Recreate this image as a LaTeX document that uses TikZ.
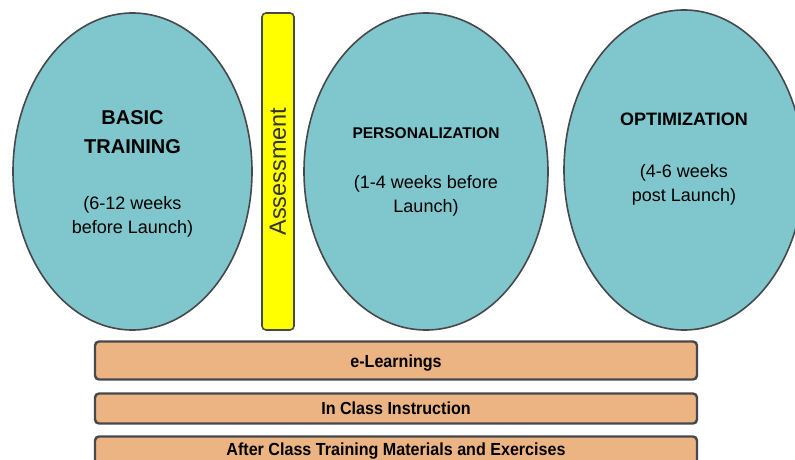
\documentclass[tikz,border=0pt]{standalone}
\usepackage{fontspec}
\setmainfont{Liberation Sans}
\usetikzlibrary{positioning,shapes.geometric}

\definecolor{phasefill}{RGB}{128,198,205}
\definecolor{barfill}{RGB}{236,180,130}
\definecolor{assessfill}{RGB}{255,255,0}
\definecolor{edgegray}{RGB}{70,72,76}

\tikzset{
  phase/.style={ellipse, draw=edgegray, line width=1.6pt, fill=phasefill, inner sep=0pt, outer sep=0pt},
  gate/.style={rectangle, rounded corners=4pt, draw=edgegray, line width=1.6pt, fill=assessfill, inner sep=0pt, outer sep=0pt, minimum width=32pt, minimum height=317pt},
  layer/.style={rectangle, rounded corners=4pt, draw=edgegray, line width=2.4pt, fill=barfill, inner sep=0pt, outer sep=0pt, minimum width=602pt},
  title/.style={align=center, font=\bfseries},
  when/.style={align=center, font=\fontsize{18}{24}\selectfont},
  layertext/.style={xscale=0.92, font=\bfseries\fontsize{17.5}{20}\selectfont}
}

\begin{document}
\begin{tikzpicture}[x=1pt,y=1pt]

\useasboundingbox (0,0) rectangle (795,-460);

% phases

\node[phase, minimum width=239pt, minimum height=317pt] (basic) at (132.5,-171.5) {};
\node[gate, right=10pt of basic] (assess) {};
\node[phase, right=10pt of assess, minimum width=244pt, minimum height=317pt] (pers) {};
\node[phase, right=16pt of pers, yshift=1.5pt, minimum width=240pt, minimum height=320pt] (optim) {};

% phase texts

\node[title, font=\bfseries\fontsize{20}{29}\selectfont] (basict) at ([yshift=39pt]basic.center) {BASIC\\TRAINING};
\node[when] (basicw) at ([yshift=-45pt]basic.center) {(6-12 weeks\\before Launch)};
\node[rotate=90, text=black!80, font=\fontsize{23.5}{26}\selectfont] (assesst) at (assess.center) {Assessment};
\node[title, font=\bfseries\fontsize{15.5}{18}\selectfont] (perst) at ([yshift=38.5pt]pers.center) {PERSONALIZATION};
\node[when] (persw) at ([yshift=-24pt]pers.center) {(1-4 weeks before\\Launch)};
\node[title, font=\bfseries\fontsize{18}{22}\selectfont] (optimt) at ([yshift=51pt]optim.center) {OPTIMIZATION};
\node[when] (optimw) at ([yshift=-15pt]optim.center) {(4-6 weeks\\post Launch)};

% delivery layers

\node[layer, minimum height=38pt, below=11.5pt of pers, xshift=-30pt] (elearn) {};
\node[layer, minimum height=30pt, below=14pt of elearn] (inclass) {};
\node[layer, minimum height=30pt, below=13pt of inclass] (after) {};

\node[layertext] (elearnt) at ([yshift=-2.5pt]elearn.center) {e-Learnings};
\node[layertext] (inclasst) at (inclass.center) {In Class Instruction};
\node[layertext] (aftert) at (after.center) {After Class Training Materials and Exercises};

\end{tikzpicture}
\end{document}
